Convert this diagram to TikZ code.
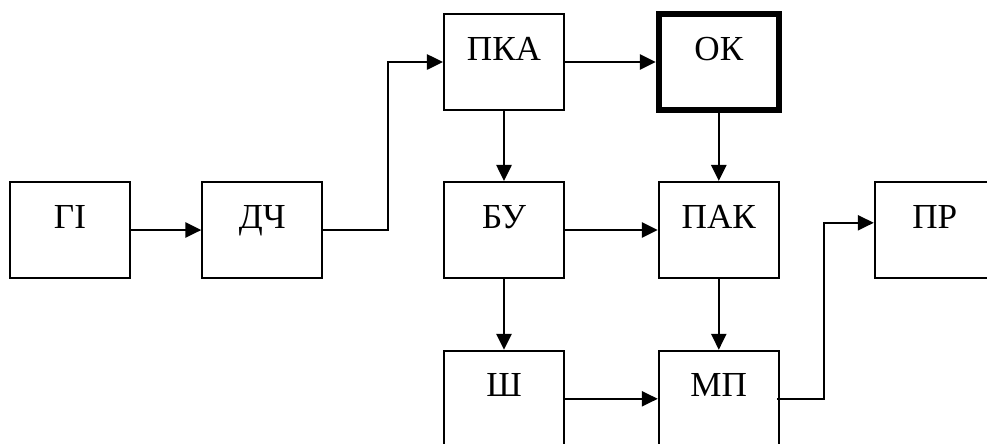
\documentclass[tikz,border=0pt]{standalone}
\usepackage{fontspec}
\setmainfont{Liberation Serif}
\usepackage{tikz}
\usetikzlibrary{arrows.meta}

\begin{document}
\begin{tikzpicture}[
		blk/.style={draw, line width=1.5pt, minimum width=3cm, inner sep=0pt,
			text height=1.15cm, text depth=1.25cm, font=\fontsize{25}{30}\selectfont},
		thickblk/.style={blk, line width=4.3pt},
		>={Triangle[length=0.4cm, width=0.38cm]},
		every edge/.style={draw, line width=1.5pt}
	]
		\clip (0,0) rectangle (24.675,-11.075);
		\useasboundingbox (0,0) rectangle (24.675,-11.075);

		\node[blk] (GI) at (1.75,-5.75) {ГІ};
		\node[blk] (DCH) at (6.56,-5.75) {ДЧ};
		\node[blk] (PKA) at (12.6,-1.55) {ПКА};
		\node[thickblk] (OK) at (17.97,-1.55) {ОК};
		\node[blk] (BU) at (12.6,-5.75) {БУ};
		\node[blk] (PAK) at (17.97,-5.75) {ПАК};
		\node[blk] (PR) at (23.37,-5.75) {ПР};
		\node[blk] (SH) at (12.6,-9.97) {Ш};
		\node[blk] (MP) at (17.97,-9.97) {МП};

		\path [->] (GI) edge (DCH);
		\draw [->, line width=1.5pt] (DCH.east) -- ++(1.62,0) |- (PKA.west);
		\path [->] (PKA) edge (OK);
		\path [->] (PKA) edge (BU);
		\path [->] (OK) edge (PAK);
		\path [->] (BU) edge (PAK);
		\path [->] (BU) edge (SH);
		\path [->] (PAK) edge (MP);
		\path [->] (SH) edge (MP);
		\draw [->, line width=1.5pt] ([xshift=-0.06cm]MP.east) -- ++(1.16,0) |- ([yshift=0.18cm]PR.west);
\end{tikzpicture}
\end{document}
